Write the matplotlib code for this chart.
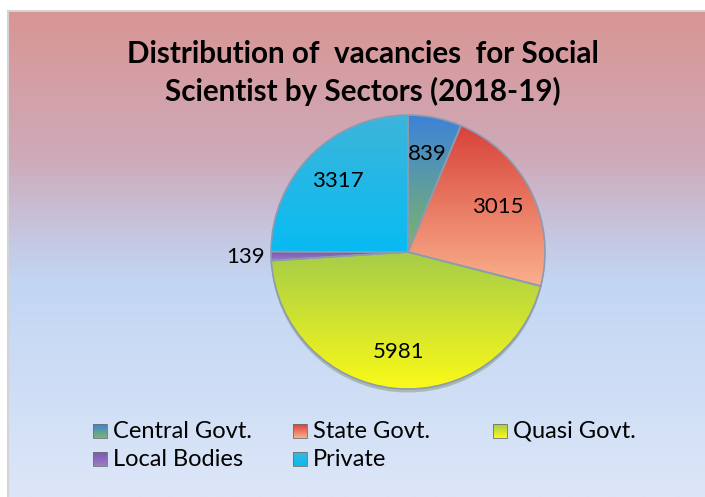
import numpy as np
import matplotlib.pyplot as plt
from matplotlib.colors import LinearSegmentedColormap
from matplotlib.patches import Rectangle, Wedge

# ---- data ----
sectors = ["Central Govt.", "State Govt.", "Quasi Govt.", "Local Bodies", "Private"]
vacancies = [839, 3015, 5981, 139, 3317]
explode_px = [0, 5, 6, 3, 0]

# top -> bottom gradient colours per slice
slice_top = ["#3C83D8", "#D8423A", "#A6CC48", "#7A5AAE", "#3DB5DA"]
slice_bottom = ["#7DB46C", "#FAB08C", "#FAFA18", "#9A7CC8", "#08BBF3"]

W, H = 705, 497
fig = plt.figure(figsize=(W / 100, H / 100), dpi=100)
ax = fig.add_axes([0, 0, 1, 1])

# ---- background panel ----
bg = LinearSegmentedColormap.from_list("bg", [
    (0.0, "#D99594"), (0.3, "#CEAAB9"), (0.47, "#C6C8E2"),
    (0.56, "#C2D6F3"), (1.0, "#DCE6F8")])
ax.imshow(np.linspace(0, 1, 256)[:, None], cmap=bg, aspect="auto",
          extent=(8, W, 0, H - 11), zorder=0)
ax.add_patch(Rectangle((8, -5), W, H - 11 + 5, fill=False,
                       edgecolor="#D4D4D4", lw=1.5, zorder=1))

# ---- pie ----
cx, cy, R = 408, H - 252, 137
wedges, _ = ax.pie(vacancies, explode=[e / R for e in explode_px],
                   startangle=90, counterclock=False, center=(cx, cy),
                   radius=R, colors=slice_top,
                   wedgeprops=dict(linewidth=0, zorder=2),
                   shadow={"ox": 0, "oy": -2.5, "shade": 0.5, "alpha": 0.3})

total = sum(vacancies)
for w, top, bot, val in zip(wedges, slice_top, slice_bottom, vacancies):
    x0, y0, x1, y1 = w.get_path().get_extents().extents
    cmap = LinearSegmentedColormap.from_list("s", [top, bot])
    im = ax.imshow(np.linspace(0, 1, 128)[:, None], cmap=cmap, aspect="auto",
                   extent=(x0, x1, y0, y1), zorder=3)
    im.set_clip_path(w)
    ax.add_patch(Wedge(w.center, w.r, w.theta1, w.theta2, fill=False,
                       edgecolor="#8E9AB0", lw=1.2, zorder=4))

    mid = np.deg2rad((w.theta1 + w.theta2) / 2)
    d = 0.73 if val / total > 0.03 else 1.19
    ax.text(w.center[0] + d * w.r * np.cos(mid), w.center[1] + d * w.r * np.sin(mid),
            str(val), ha="center", va="center", fontsize=16,
            family="Lato", color="black", zorder=5)

# ---- title ----
fig.text(363 / W, 1 - 73 / H,
         "Distribution of  vacancies  for Social\nScientist by Sectors (2018-19)",
         ha="center", va="center", fontsize=21.3, fontweight="bold",
         family="Lato", linespacing=1.4)

# ---- legend ----
for i, (name, top, bot) in enumerate(zip(sectors, slice_top, slice_bottom)):
    lx = 93 + 200 * (i % 3)
    ly = H - (431 + 28 * (i // 3))
    cmap = LinearSegmentedColormap.from_list("l", [top, bot])
    ax.imshow(np.linspace(0, 1, 32)[:, None], cmap=cmap, aspect="auto",
              extent=(lx, lx + 14, ly - 7, ly + 7), zorder=3)
    ax.add_patch(Rectangle((lx, ly - 7), 14, 14, fill=False,
                           edgecolor="#707070", lw=0.6, zorder=4))
    ax.text(lx + 20, ly, name, ha="left", va="center", fontsize=17,
            family="Lato", zorder=5)

ax.set_xlim(0, W)
ax.set_ylim(0, H)
ax.set_aspect("auto")
ax.axis("off")

fig.savefig("out.png", dpi=100)
